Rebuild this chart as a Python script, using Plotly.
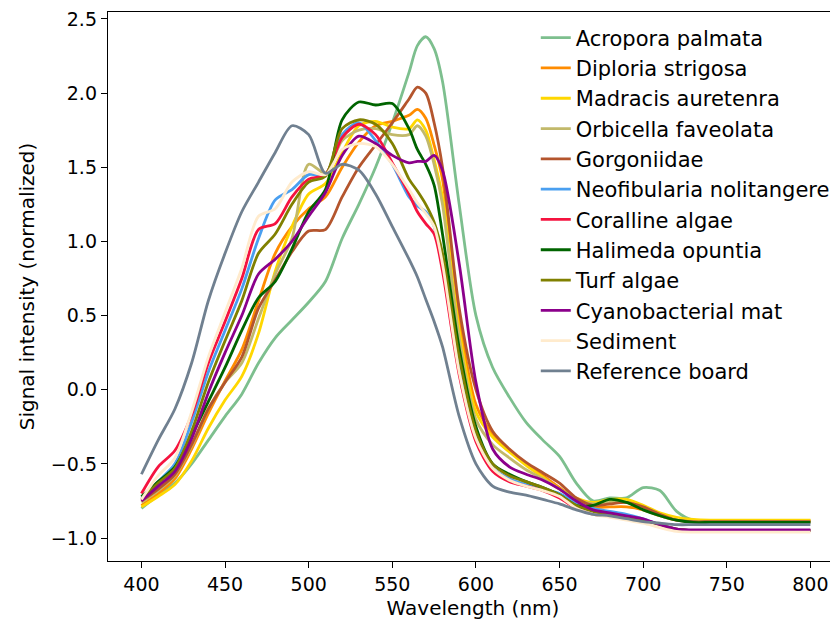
import plotly.graph_objects as go

wavelength = [400, 410, 420, 430, 440, 450, 460, 470, 480, 490, 500, 510, 520, 530, 540,
              550, 560, 565, 570, 575, 580, 590, 600, 610, 620, 630, 640, 650, 660, 670,
              680, 690, 700, 710, 720, 730, 740, 750, 760, 770, 780, 790, 800]

acropora = [-0.80, -0.71, -0.63, -0.50, -0.34, -0.18, -0.03, 0.18, 0.35, 0.47, 0.59, 0.73, 1.02, 1.25, 1.50,
            1.80, 2.14, 2.32, 2.38, 2.30, 2.08, 1.25, 0.50, 0.15, -0.05, -0.22, -0.34, -0.45, -0.63, -0.75,
            -0.73, -0.73, -0.66, -0.68, -0.82, -0.88, -0.885, -0.885, -0.885, -0.885, -0.885, -0.885, -0.885]
diploria = [-0.78, -0.70, -0.60, -0.40, -0.16, 0.06, 0.27, 0.60, 0.92, 1.10, 1.22, 1.30, 1.50, 1.67, 1.78,
            1.81, 1.85, 1.89, 1.83, 1.65, 1.42, 0.49, -0.10, -0.30, -0.41, -0.50, -0.58, -0.66, -0.74, -0.79,
            -0.79, -0.79, -0.81, -0.85, -0.88, -0.885, -0.885, -0.885, -0.885, -0.885, -0.885, -0.885, -0.885]
madracis = [-0.79, -0.72, -0.64, -0.48, -0.26, -0.07, 0.09, 0.38, 0.80, 1.10, 1.32, 1.39, 1.60, 1.78, 1.81,
            1.77, 1.76, 1.82, 1.75, 1.55, 1.30, 0.40, -0.15, -0.32, -0.42, -0.51, -0.59, -0.67, -0.73, -0.76,
            -0.74, -0.74, -0.78, -0.83, -0.86, -0.875, -0.88, -0.88, -0.88, -0.88, -0.88, -0.88, -0.88]
orbicella = [-0.76, -0.68, -0.58, -0.38, -0.13, 0.05, 0.18, 0.48, 0.78, 1.02, 1.52, 1.46, 1.68, 1.75, 1.76,
             1.72, 1.72, 1.78, 1.71, 1.52, 1.25, 0.35, -0.20, -0.37, -0.46, -0.54, -0.60, -0.67, -0.74, -0.77,
             -0.76, -0.76, -0.80, -0.85, -0.88, -0.89, -0.89, -0.89, -0.89, -0.89, -0.89, -0.89, -0.89]
gorgoniidae = [-0.75, -0.67, -0.57, -0.37, -0.13, 0.05, 0.22, 0.55, 0.74, 0.93, 1.07, 1.08, 1.30, 1.50, 1.65,
               1.80, 1.96, 2.04, 2.00, 1.80, 1.50, 0.55, 0.00, -0.28, -0.40, -0.49, -0.56, -0.63, -0.73, -0.78,
               -0.77, -0.76, -0.79, -0.84, -0.88, -0.89, -0.89, -0.89, -0.89, -0.89, -0.89, -0.89, -0.89]
neofibularia = [-0.73, -0.62, -0.50, -0.22, 0.12, 0.40, 0.68, 1.02, 1.28, 1.35, 1.45, 1.45, 1.72, 1.80, 1.68,
                1.52, 1.30, 1.24, 1.20, 1.10, 0.85, 0.15, -0.32, -0.53, -0.60, -0.64, -0.67, -0.70, -0.76, -0.80,
                -0.82, -0.84, -0.87, -0.91, -0.94, -0.95, -0.95, -0.95, -0.95, -0.95, -0.95, -0.95, -0.95]
coralline = [-0.70, -0.52, -0.41, -0.17, 0.18, 0.46, 0.75, 1.08, 1.12, 1.30, 1.42, 1.45, 1.70, 1.79, 1.72,
             1.53, 1.32, 1.20, 1.12, 1.05, 0.80, 0.10, -0.35, -0.55, -0.62, -0.65, -0.68, -0.73, -0.80, -0.84,
             -0.85, -0.86, -0.88, -0.91, -0.94, -0.95, -0.95, -0.95, -0.95, -0.95, -0.95, -0.95, -0.95]
halimeda = [-0.72, -0.62, -0.52, -0.31, -0.08, 0.15, 0.40, 0.62, 0.73, 0.95, 1.20, 1.35, 1.82, 1.94, 1.92,
            1.93, 1.76, 1.62, 1.52, 1.38, 1.05, 0.28, -0.25, -0.50, -0.57, -0.62, -0.66, -0.71, -0.78, -0.78,
            -0.74, -0.76, -0.81, -0.85, -0.88, -0.895, -0.895, -0.895, -0.895, -0.895, -0.895, -0.895, -0.895]
turf = [-0.74, -0.63, -0.53, -0.28, 0.05, 0.33, 0.60, 0.92, 1.05, 1.25, 1.40, 1.44, 1.76, 1.82, 1.79,
        1.66, 1.42, 1.34, 1.25, 1.13, 0.92, 0.22, -0.28, -0.50, -0.58, -0.62, -0.66, -0.71, -0.78, -0.82,
        -0.84, -0.86, -0.88, -0.91, -0.94, -0.95, -0.95, -0.95, -0.95, -0.95, -0.95, -0.95, -0.95]
cyano = [-0.75, -0.65, -0.55, -0.33, -0.02, 0.25, 0.50, 0.78, 0.88, 1.00, 1.17, 1.33, 1.58, 1.71, 1.66,
         1.58, 1.53, 1.54, 1.54, 1.58, 1.48, 0.85, 0.05, -0.40, -0.52, -0.57, -0.61, -0.67, -0.75, -0.81,
         -0.83, -0.85, -0.87, -0.91, -0.94, -0.945, -0.945, -0.945, -0.945, -0.945, -0.945, -0.945, -0.945]
sediment = [-0.74, -0.58, -0.46, -0.15, 0.22, 0.52, 0.82, 1.17, 1.22, 1.40, 1.47, 1.45, 1.62, 1.66, 1.64,
            1.52, 1.35, 1.26, 1.19, 1.10, 0.85, 0.12, -0.33, -0.53, -0.61, -0.65, -0.68, -0.72, -0.80, -0.84,
            -0.86, -0.88, -0.90, -0.93, -0.955, -0.96, -0.96, -0.96, -0.96, -0.96, -0.96, -0.96, -0.96]
reference = [-0.57, -0.34, -0.13, 0.18, 0.60, 0.92, 1.20, 1.40, 1.60, 1.78, 1.72, 1.46, 1.52, 1.48, 1.32,
             1.10, 0.88, 0.76, 0.61, 0.46, 0.29, -0.18, -0.50, -0.65, -0.69, -0.71, -0.74, -0.77, -0.81, -0.84,
             -0.85, -0.87, -0.89, -0.90, -0.91, -0.91, -0.91, -0.91, -0.91, -0.91, -0.91, -0.91, -0.91]

names = ["Acropora palmata", "Diploria strigosa", "Madracis auretenra", "Orbicella faveolata",
         "Gorgoniidae", "Neofibularia nolitangere", "Coralline algae", "Halimeda opuntia",
         "Turf algae", "Cyanobacterial mat", "Sediment", "Reference board"]
series = [acropora, diploria, madracis, orbicella, gorgoniidae, neofibularia, coralline,
          halimeda, turf, cyano, sediment, reference]
colors = ["#7dbf8e", "#ff8c00", "#ffd700", "#c2b96a", "#b4552d", "#4a9ff0", "#f5133f",
          "#006400", "#808000", "#8b008b", "#ffebcd", "#708090"]

fig = go.Figure()
for name, vals, col in zip(names, series, colors):
    fig.add_trace(go.Scatter(x=wavelength, y=vals, name=name, mode="lines",
                             line=dict(color=col, width=2.8, shape="spline", smoothing=0.8)))

font = "DejaVu Sans"
fig.update_layout(
    width=830, height=616,
    margin=dict(l=100, r=0, t=4, b=63),
    paper_bgcolor="white", plot_bgcolor="white",
    font=dict(family=font, size=20, color="black"),
    showlegend=True,
    legend=dict(x=0.586, y=0.99, xanchor="left", yanchor="top",
                bgcolor="rgba(0,0,0,0)", font=dict(size=21, family=font),
                tracegroupgap=0, itemwidth=30),
    xaxis=dict(range=[380, 816.5], tickvals=[400, 450, 500, 550, 600, 650, 700, 750, 800],
               showgrid=False, zeroline=False, showline=True, mirror=True,
               linecolor="black", linewidth=1.4, ticks="outside", ticklen=6, tickwidth=1.4,
               tickcolor="black", tickfont=dict(size=19), ticklabeloverflow="allow",
               title=dict(text="Wavelength (nm)", font=dict(size=20), standoff=6)),
    yaxis=dict(range=[-1.155, 2.547], tickvals=[-1.0, -0.5, 0.0, 0.5, 1.0, 1.5, 2.0, 2.5],
               tickformat=".1f", ticklabeloverflow="allow",
               showgrid=False, zeroline=False, showline=True, mirror=False,
               linecolor="black", linewidth=1.4, ticks="outside", ticklen=6, tickwidth=1.4,
               tickcolor="black", tickfont=dict(size=19),
               title=dict(text="Signal intensity (normalized)", font=dict(size=20), standoff=10)),
)
fig.write_html("out.html")
